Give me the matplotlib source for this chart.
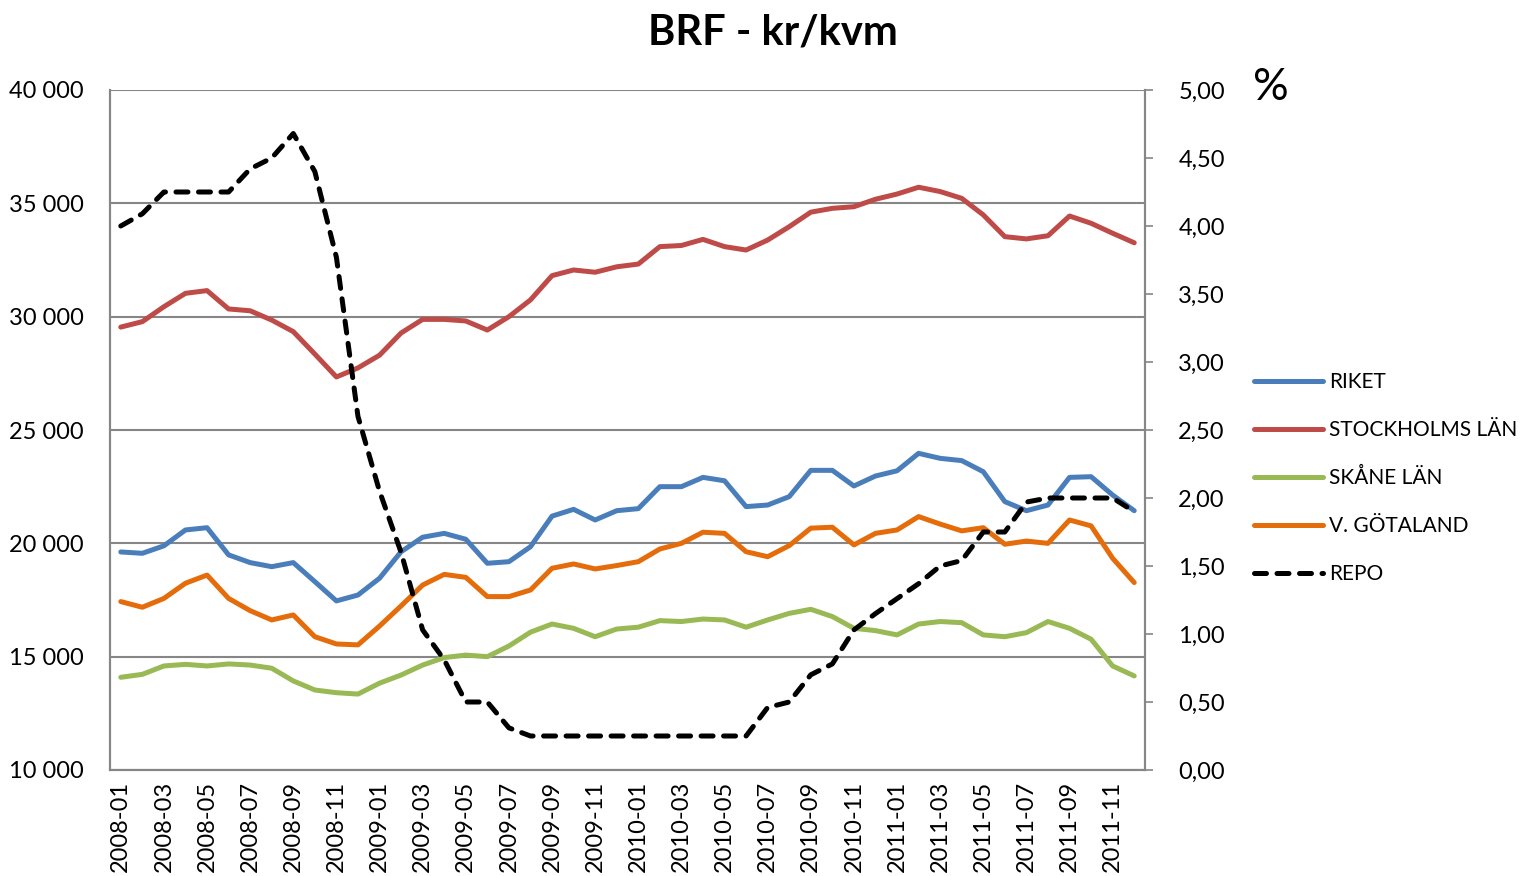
import numpy as np
import matplotlib
matplotlib.use("Agg")
import matplotlib.pyplot as plt
from matplotlib.ticker import FuncFormatter, MultipleLocator

plt.rcParams["font.family"] = ["Lato", "DejaVu Sans"]

months = [f"{y}-{m:02d}" for y in (2008, 2009, 2010, 2011) for m in range(1, 13)]

riket = [19620, 19560, 19890, 20590, 20690, 19490, 19150, 18970, 19150, 18310,
         17460, 17720, 18460, 19630, 20270, 20440, 20180, 19120, 19190, 19850,
         21200, 21500, 21030, 21440, 21530, 22500, 22500, 22910, 22760, 21620,
         21690, 22060, 23220, 23220, 22530, 22970, 23200, 23970, 23750, 23650,
         23160, 21840, 21440, 21690, 22910, 22940, 22130, 21440]
stockholm = [29540, 29780, 30440, 31030, 31150, 30340, 30260, 29850, 29340, 28350,
             27340, 27740, 28300, 29280, 29880, 29880, 29810, 29410, 30000, 30740,
             31810, 32060, 31960, 32200, 32320, 33090, 33140, 33410, 33090, 32940,
             33380, 33970, 34610, 34780, 34850, 35180, 35410, 35710, 35520, 35220,
             34490, 33530, 33430, 33570, 34440, 34120, 33680, 33260]
skane = [14090, 14220, 14590, 14660, 14590, 14680, 14630, 14490, 13930, 13530,
         13410, 13350, 13830, 14190, 14630, 14960, 15070, 15000, 15470, 16080,
         16440, 16250, 15880, 16220, 16300, 16590, 16550, 16660, 16620, 16300,
         16620, 16910, 17090, 16770, 16250, 16150, 15960, 16440, 16550, 16500,
         15960, 15880, 16060, 16550, 16250, 15770, 14590, 14150]
gotaland = [17430, 17180, 17570, 18240, 18600, 17570, 17030, 16620, 16840, 15880,
            15560, 15520, 16350, 17240, 18160, 18630, 18500, 17650, 17650, 17940,
            18900, 19090, 18870, 19020, 19190, 19750, 20000, 20490, 20440, 19630,
            19410, 19900, 20670, 20710, 19930, 20440, 20590, 21180, 20850, 20550,
            20690, 19960, 20100, 20000, 21030, 20770, 19340, 18270]
repo = [4.00, 4.09, 4.25, 4.25, 4.25, 4.25, 4.42, 4.50, 4.68, 4.40,
        3.77, 2.60, 2.05, 1.60, 1.03, 0.81, 0.50, 0.50, 0.31, 0.25,
        0.25, 0.25, 0.25, 0.25, 0.25, 0.25, 0.25, 0.25, 0.25, 0.25,
        0.46, 0.50, 0.70, 0.78, 1.03, 1.15, 1.26, 1.37, 1.50, 1.54,
        1.75, 1.75, 1.97, 2.00, 2.00, 2.00, 2.00, 1.90]

series = [("RIKET", riket, "#4A7EBB"),
          ("STOCKHOLMS LÄN", stockholm, "#BE4B48"),
          ("SKÅNE LÄN", skane, "#98B954"),
          ("V. GÖTALAND", gotaland, "#E46C0A")]

grid_col = "#868686"
lw = 3.6

fig = plt.figure(figsize=(15.28, 8.76), dpi=100)
ax = fig.add_axes([110 / 1528, 1 - 770 / 876, 1035 / 1528, 680 / 876])
ax2 = ax.twinx()

x = np.arange(len(months))
handles = []
for name, vals, col in series:
    h, = ax.plot(x, vals, color=col, lw=lw, label=name,
                 solid_joinstyle="round", solid_capstyle="round")
    handles.append(h)

h, = ax2.plot(x, repo, color="black", lw=lw, label="REPO",
              linestyle=(0, (2.4, 2.1)), dash_capstyle="round",
              dash_joinstyle="round")
handles.append(h)

ax.set_xlim(-0.5, len(months) - 0.5)
ax.set_ylim(10000, 40000)
ax2.set_ylim(0, 5)

ax.yaxis.set_major_locator(MultipleLocator(5000))
ax.yaxis.set_major_formatter(FuncFormatter(lambda v, p: f"{int(v):,}".replace(",", " ")))
ax2.yaxis.set_major_locator(MultipleLocator(0.5))
ax2.yaxis.set_major_formatter(FuncFormatter(lambda v, p: f"{v:.2f}".replace(".", ",")))

ax.set_xticks(x[::2])
ax.set_xticklabels(months[::2], rotation=90, fontsize=17)
ax.tick_params(axis="x", length=0, pad=8)
ax.tick_params(axis="y", length=0, labelsize=17, pad=19)
ax2.tick_params(axis="y", length=6, width=1.2, color=grid_col,
                direction="out", labelsize=17, pad=18)

ax.grid(axis="y", color=grid_col, lw=1.5)
ax.set_axisbelow(True)
for a in (ax, ax2):
    a.spines["top"].set_visible(False)
    for s in ("left", "right", "bottom"):
        a.spines[s].set_color(grid_col)
        a.spines[s].set_linewidth(1.5)

fig.text(0.506, 0.963, "BRF - kr/kvm", ha="center", va="center",
         fontsize=30, fontweight="bold")
fig.text(1271 / 1528, 1 - 88 / 876, "%", ha="center", va="center", fontsize=32)

fig.legend(handles=handles, loc="upper left",
           bbox_to_anchor=(1246 / 1528, 1 - 364 / 876), frameon=False,
           fontsize=15, handlelength=3.3, handletextpad=0.3, labelspacing=1.34,
           borderaxespad=0)

fig.savefig("out.png", dpi=100)
